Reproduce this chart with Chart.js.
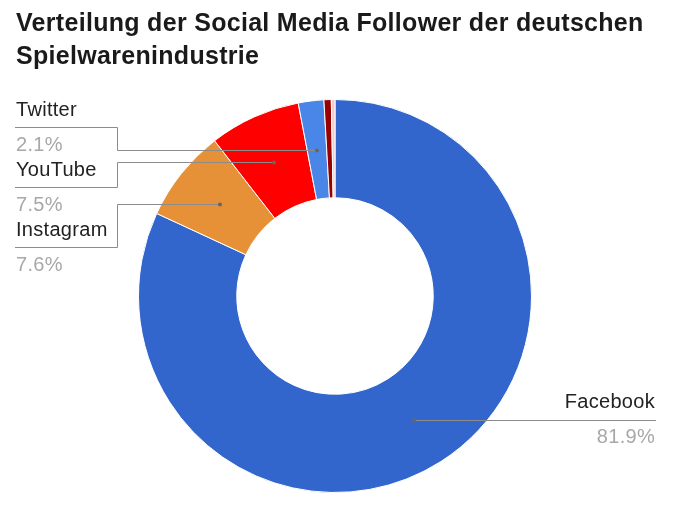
<!DOCTYPE html>
<html>
<head>
<meta charset="utf-8">
<script src="https://cdn.jsdelivr.net/npm/chart.js@4"></script>
<style>
  html, body { margin: 0; padding: 0; background: #fff; }
</style>
</head>
<body>
<canvas id="myChart" width="683" height="508"></canvas>
<script>
    // data
    const titleLines = ['Verteilung der Social Media Follower der deutschen', 'Spielwarenindustrie'];
    const labels = ['Facebook', 'Instagram', 'YouTube', 'Twitter', 'Google+', 'Pinterest'];
    const shares = [81.9, 7.6, 7.5, 2.1, 0.6, 0.3];
    const colors = ['#3366cc', '#e69138', '#ff0000', '#4a86e8', '#990000', '#f4cccc'];

    // which slices get a callout on the left column (name centre y)
    const leftSlots = [
      { idx: 3, y: 110 },
      { idx: 2, y: 170 },
      { idx: 1, y: 230 }
    ];

    //title + callout labels plugin
    const calloutLabels = {
      id: 'calloutLabels',
      afterDraw(chart) {
        const { ctx } = chart;
        const arcs = chart.getDatasetMeta(0).data;
        ctx.save();

        // title
        ctx.font = 'bold 25px "Liberation Sans", Arial, sans-serif';
        ctx.letterSpacing = '0.3px';
        ctx.fillStyle = '#1a1a1a';
        ctx.textAlign = 'left';
        ctx.textBaseline = 'alphabetic';
        titleLines.forEach((t, i) => ctx.fillText(t, 16, 31 + i * 33));

        const nameFont = '20px "Liberation Sans", Arial, sans-serif';
        ctx.lineWidth = 1;
        ctx.strokeStyle = '#8c8c8c';

        const dot = (x, y) => {
          ctx.beginPath();
          ctx.fillStyle = '#666';
          ctx.arc(x, y, 2, 0, Math.PI * 2);
          ctx.fill();
        };

        leftSlots.forEach(slot => {
          const a = arcs[slot.idx].tooltipPosition();
          const ax = Math.round(a.x), ay = Math.round(a.y) + 0.5;
          const uy = slot.y + 17.5;
          ctx.beginPath();
          ctx.moveTo(15, uy);
          ctx.lineTo(117.5, uy);
          ctx.lineTo(117.5, ay);
          ctx.lineTo(ax, ay);
          ctx.stroke();
          dot(ax, ay);

          ctx.font = nameFont;
          ctx.letterSpacing = '0.3px';
          ctx.textAlign = 'left';
          ctx.textBaseline = 'middle';
          ctx.fillStyle = '#222';
          ctx.fillText(labels[slot.idx], 16, slot.y);
          ctx.fillStyle = '#a8a8a8';
          ctx.fillText(shares[slot.idx].toFixed(1) + '%', 16, slot.y + 35);
        });

        // Facebook on the right
        const f = arcs[0].tooltipPosition();
        const fx = Math.round(f.x), fy = Math.round(f.y) + 0.5;
        ctx.beginPath();
        ctx.moveTo(fx, fy);
        ctx.lineTo(656, fy);
        ctx.stroke();
        dot(fx, fy);
        ctx.font = nameFont;
        ctx.letterSpacing = '0.3px';
        ctx.textAlign = 'right';
        ctx.textBaseline = 'middle';
        ctx.fillStyle = '#222';
        ctx.fillText(labels[0], 655, fy - 18);
        ctx.fillStyle = '#a8a8a8';
        ctx.fillText(shares[0].toFixed(1) + '%', 655, fy + 17);

        ctx.restore();
      }
    };

    // config
    const config = {
      type: 'doughnut',
      data: {
        labels: labels,
        datasets: [{
          data: shares,
          backgroundColor: colors,
          borderColor: '#ffffff',
          borderWidth: 1
        }]
      },
      options: {
        responsive: false,
        animation: false,
        cutout: '50%',
        layout: {
          padding: { top: 99, bottom: 15, left: 0, right: 13 }
        },
        plugins: {
          legend: { display: false },
          tooltip: { enabled: false }
        }
      },
      plugins: [calloutLabels]
    };

    // render init block
    const myChart = new Chart(
      document.getElementById('myChart'),
      config
    );
</script>
</body>
</html>
